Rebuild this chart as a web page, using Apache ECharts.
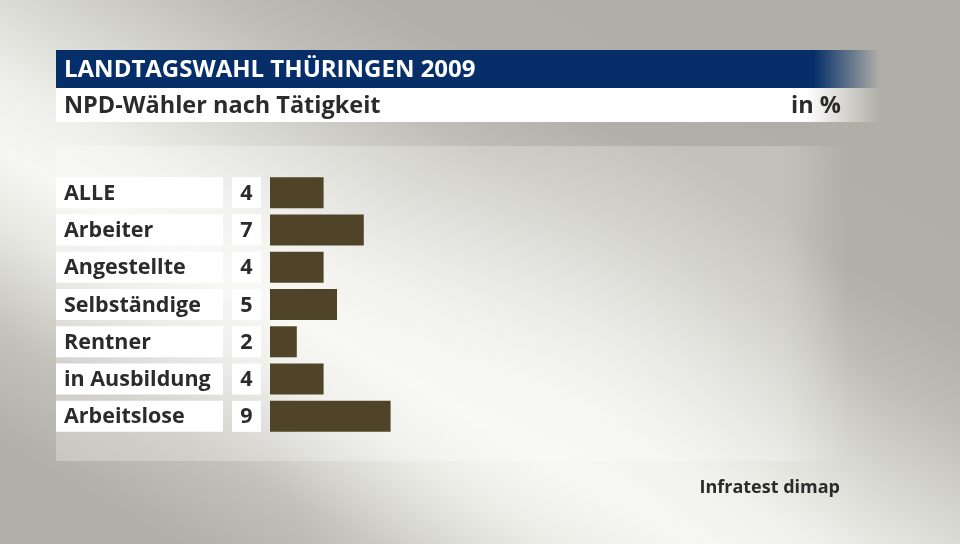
<!DOCTYPE html>
<html>
<head>
<meta charset="utf-8">
<script src="https://cdn.jsdelivr.net/npm/echarts@6/dist/echarts.min.js"></script>
<style>
html,body{margin:0;padding:0;}
#chart{width:960px;height:544px;}
</style>
</head>
<body>
<div id="chart"></div>
<script>
const categories = ['ALLE', 'Arbeiter', 'Angestellte', 'Selbständige', 'Rentner', 'in Ausbildung', 'Arbeitslose'];
const values = [4, 7, 4, 5, 2, 4, 9];
const titleText = 'LANDTAGSWAHL THÜRINGEN 2009';
const subtitleText = 'NPD-Wähler nach Tätigkeit';
const unitText = 'in %';
const sourceText = 'Infratest dimap';

const FONT = '"Open Sans", "Noto Sans", sans-serif';
const chart = echarts.init(document.getElementById('chart'), null, {renderer: 'canvas'});

const valueMap = {};
categories.forEach((c, i) => valueMap[c] = values[i]);

chart.setOption({
  animation: false,
  backgroundColor: '#b0afa7',
  graphic: [
    {type: 'rect', z: -10, shape: {x: 0, y: 0, width: 960, height: 544},
     style: {fill: new echarts.graphic.LinearGradient(283, 770, 677, 74, [
       {offset: 0, color: '#b0afa7'},
       {offset: 0.18, color: '#b1b0a8'},
       {offset: 0.3, color: '#c2c1ba'},
       {offset: 0.42, color: '#e8e8e3'},
       {offset: 0.5, color: '#f6f7f2'},
       {offset: 0.58, color: '#eeeeea'},
       {offset: 0.68, color: '#d8d8d2'},
       {offset: 0.8, color: '#bdbcb5'},
       {offset: 0.9, color: '#b1b0a8'},
       {offset: 1, color: '#b0afa7'}
     ], true)}},
    {type: 'rect', z: -9, shape: {x: 0, y: 0, width: 960, height: 544},
     style: {fill: new echarts.graphic.RadialGradient(580, 430, 300, [
       {offset: 0, color: 'rgba(248,249,244,0.55)'},
       {offset: 1, color: 'rgba(248,249,244,0)'}
     ], true)}},
    {type: 'rect', z: -8, shape: {x: 56, y: 146, width: 792, height: 315},
     style: {fill: new echarts.graphic.LinearGradient(0, 0, 1, 0, [
       {offset: 0, color: 'rgba(255,255,255,0.27)'},
       {offset: 0.92, color: 'rgba(255,255,255,0.22)'},
       {offset: 1, color: 'rgba(255,255,255,0)'}
     ])}},
    {type: 'rect', z: 1, shape: {x: 56, y: 50, width: 824, height: 38},
     style: {fill: new echarts.graphic.LinearGradient(0, 0, 1, 0, [
       {offset: 0, color: '#062f6a'},
       {offset: 0.92, color: '#062f6a'},
       {offset: 1, color: 'rgba(6,47,106,0)'}
     ])}},
    {type: 'rect', z: 1, shape: {x: 56, y: 88, width: 824, height: 34},
     style: {fill: new echarts.graphic.LinearGradient(0, 0, 1, 0, [
       {offset: 0, color: '#ffffff'},
       {offset: 0.91, color: '#ffffff'},
       {offset: 1, color: 'rgba(255,255,255,0)'}
     ])}},
    {type: 'text', z: 2, x: 64, y: 70,
     style: {text: titleText, fill: '#ffffff', font: 'bold 24px ' + FONT, textVerticalAlign: 'middle'}},
    {type: 'text', z: 2, x: 64, y: 106,
     style: {text: subtitleText, fill: '#2b2b2b', font: 'bold 23.5px ' + FONT, textVerticalAlign: 'middle'}},
    {type: 'text', z: 2, x: 841, y: 106,
     style: {text: unitText, fill: '#2b2b2b', font: 'bold 23.5px ' + FONT, textAlign: 'right', textVerticalAlign: 'middle'}},
    {type: 'text', z: 2, x: 840, y: 488,
     style: {text: sourceText, fill: '#2b2b2b', font: 'bold 18px ' + FONT, textAlign: 'right', textVerticalAlign: 'middle'}}
  ],
  grid: {left: 270, right: 20, top: 174, height: 261, containLabel: false},
  xAxis: {type: 'value', min: 0, max: 50, show: false},
  yAxis: {
    type: 'category', data: categories, inverse: true,
    axisLine: {show: false}, axisTick: {show: false}, splitLine: {show: false},
    axisLabel: {
      margin: 214, align: 'left',
      formatter: function (v) { return '{a|' + v + '}{g| }{b|' + valueMap[v] + '}'; },
      rich: {
        a: {width: 159, height: 27, lineHeight: 27, padding: [3, 0, 1, 8], backgroundColor: '#ffffff',
            color: '#2b2b2b', fontSize: 21.5, fontWeight: 'bold', fontFamily: FONT, align: 'left', verticalAlign: 'middle'},
        g: {width: 9, height: 31},
        b: {width: 29, height: 27, lineHeight: 27, padding: [3, 0, 1, 0], backgroundColor: '#ffffff', align: 'center',
            color: '#2b2b2b', fontSize: 21.5, fontWeight: 'bold', fontFamily: FONT, verticalAlign: 'middle'}
      }
    }
  },
  series: [{
    type: 'bar', data: values, barWidth: 31,
    itemStyle: {color: '#4f4428'}
  }]
});
</script>
</body>
</html>
